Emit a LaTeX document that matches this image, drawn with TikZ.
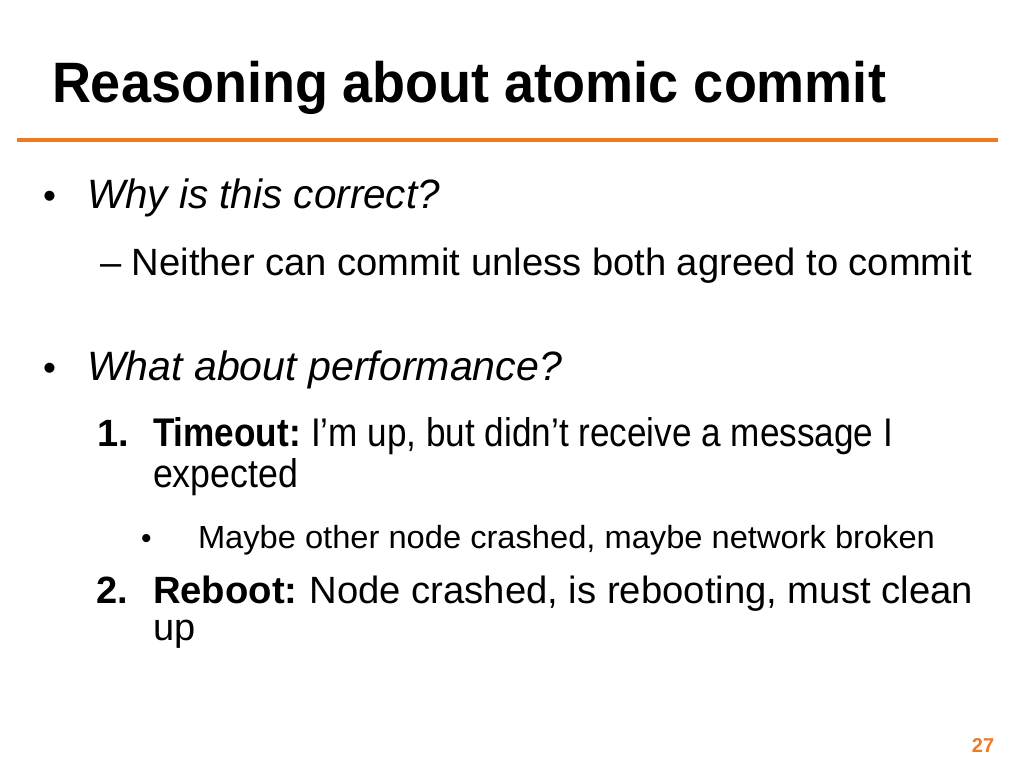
\documentclass[tikz,border=0pt]{standalone}
\usepackage{fontspec}
\usepackage{graphicx}
\setmainfont{Liberation Sans}
\definecolor{slideorange}{RGB}{240,122,32}
\newcommand{\fitw}[2]{\resizebox{#1pt}{\height}{#2}}
\newcommand{\fsz}[1]{\fontsize{#1pt}{#1pt}\selectfont}
\begin{document}
\begin{tikzpicture}[x=1pt,y=-1pt,
  txt/.style={anchor=base west,inner sep=0pt,outer sep=0pt,text=black}]
\useasboundingbox (0,0) rectangle (1024,768);
\fill[white] (0,0) rectangle (1024,768);
% title
\node[txt] (title) at (52,102) {\fitw{834}{\fsz{57}\bfseries Reasoning about atomic commit}};
\coordinate (rl) at (17,140);
\coordinate (rr) at (998,140);
\draw[slideorange,line width=3.2pt] (rl) -- (rr);
% bullet 1
\node[txt] (b1) at (43,208) {\fsz{37}\textbullet};
\node[txt] (why) at (87,208) {\fitw{353}{\fsz{41}\itshape Why is this correct?}};
\node[txt] (neither) at (100,275) {\fitw{872}{\fsz{38}– Neither can commit unless both agreed to commit}};
% bullet 2
\node[txt] (b2) at (43,380) {\fsz{37}\textbullet};
\node[txt] (what) at (87,380) {\fitw{475}{\fsz{41}\itshape What about performance?}};
% item 1
\node[txt] (n1) at (97,446) {\fsz{38}\bfseries 1.};
\node[txt] (timeout) at (153,446) {\fitw{740}{\fsz{40}\textbf{Timeout:}\hspace{-3pt} I’m up, but didn’t receive a message I}};
\node[txt] (expected) at (153,487) {\fitw{145}{\fsz{40}expected}};
% sub bullet
\node[txt] (b3) at (141,548) {\fsz{30}\textbullet};
\node[txt] (maybe) at (198,548) {\fitw{737}{\fsz{32}Maybe other node crashed, maybe network broken}};
% item 2
\node[txt] (n2) at (96,603) {\fsz{38}\bfseries 2.};
\node[txt] (reboot) at (153,603) {\fitw{820}{\fsz{38}\textbf{Reboot:}\hspace{-2pt} Node crashed, is rebooting, must clean}};
\node[txt] (up) at (153,640) {\fsz{38}up};
% page number
\node[anchor=base,inner sep=0pt,text=slideorange] (pg) at (983,752) {\fsz{20}\bfseries 27};
\end{tikzpicture}
\end{document}
